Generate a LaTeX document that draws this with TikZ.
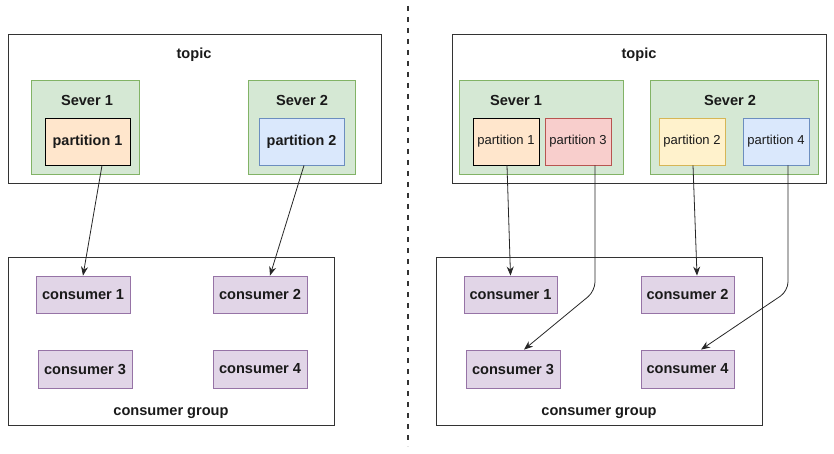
\documentclass[tikz,border=0pt]{standalone}
\usepackage{fontspec}
\setmainfont{Liberation Sans}
\usetikzlibrary{arrows.meta}
\definecolor{grfill}{HTML}{D5E8D4}
\definecolor{grline}{HTML}{82B366}
\definecolor{orfill}{HTML}{FFE6CC}
\definecolor{blfill}{HTML}{DAE8FC}
\definecolor{blline}{HTML}{6C8EBF}
\definecolor{rdfill}{HTML}{F8CECC}
\definecolor{rdline}{HTML}{B85450}
\definecolor{ylfill}{HTML}{FFF2CC}
\definecolor{ylline}{HTML}{D6B656}
\definecolor{pufill}{HTML}{E1D5E7}
\definecolor{puline}{HTML}{9673A6}
\definecolor{txt}{HTML}{1A1A1A}
\tikzset{
  box/.style={draw=black!80, line width=0.9pt, inner sep=0pt},
  server/.style={draw=grline, fill=grfill, line width=0.8pt, inner sep=0pt},
  part/.style={line width=0.9pt, inner sep=0pt, font=\fontsize{14.4}{16}\selectfont\bfseries, text=txt},
  partR/.style={line width=0.9pt, inner sep=0pt, font=\fontsize{13}{15}\selectfont, text=txt},
  cons/.style={draw=puline, fill=pufill, line width=0.8pt, inner sep=0pt, font=\fontsize{14.6}{16}\selectfont\bfseries, text=txt},
  lbl/.style={inner sep=0pt, font=\fontsize{14.6}{16}\selectfont\bfseries, text=txt},
  conn/.style={draw=black!85, line width=0.8pt, -{Stealth[length=9pt,width=7pt]}},
}
\newcommand{\boxat}[6]{% name, style, x1, y1, x2, y2
  \node[#2, minimum width={(#5-#3)*1pt}, minimum height={(#6-#4)*1pt}] (#1) at ({(#3+#5)/2},{(#4+#6)/2}) {};}
\begin{document}
\begin{tikzpicture}[x=1pt, y=-1pt]
\useasboundingbox (0,0) rectangle (834,454);
% divider
\draw[black!80, line width=1.8pt, dash pattern=on 5pt off 6pt] (408,6) coordinate (d1) -- (408,446) coordinate (d2);
% ===== LEFT =====
\boxat{Ltopic}{box}{8}{34}{381}{183}
\node[lbl] (LtopicT) at (194,55) {topic};
\boxat{Ls1}{server}{31}{80}{139}{174}
\node[lbl] (Ls1T) at (87,100) {Sever 1};
\boxat{Ls2}{server}{248}{80}{355}{174}
\node[lbl] (Ls2T) at (302,100) {Sever 2};
\node[part, draw=black, fill=orfill, minimum width=85pt, minimum height=47pt] (Lp1) at (87.5,141.5) {partition 1};
\node[part, draw=blline, fill=blfill, minimum width=85pt, minimum height=47pt] (Lp2) at (301.5,141.5) {partition 2};
\boxat{Lcg}{box}{8}{257}{334}{425}
\node[lbl] (LcgT) at (171,413) {consumer group};
\node[cons, minimum width=94pt, minimum height=37pt] (Lc1) at (83,294.5) {consumer 1};
\node[cons, minimum width=94pt, minimum height=37pt] (Lc2) at (260,294.5) {consumer 2};
\node[cons, minimum width=94pt, minimum height=38pt] (Lc3) at (85,369) {consumer 3};
\node[cons, minimum width=94pt, minimum height=38pt] (Lc4) at (260,369) {consumer 4};
\draw[conn] (Lp1.south -| 102,0) -- (Lc1.north);
\draw[conn] (Lp2.south -| 304,0) -- (Lc2.north -| 270,0);
% ===== RIGHT =====
\boxat{Rtopic}{box}{452}{34}{826}{183}
\node[lbl] (RtopicT) at (639,55) {topic};
\boxat{Rs1}{server}{459}{80}{623}{174}
\node[lbl] (Rs1T) at (516,100) {Sever 1};
\boxat{Rs2}{server}{650}{80}{818}{174}
\node[lbl] (Rs2T) at (730,100) {Sever 2};
\node[partR, draw=black, fill=orfill, minimum width=66pt, minimum height=47pt] (Rp1) at (506,141.5) {partition 1};
\node[partR, draw=rdline, fill=rdfill, minimum width=66pt, minimum height=47pt] (Rp3) at (578,141.5) {partition 3};
\node[partR, draw=ylline, fill=ylfill, minimum width=66pt, minimum height=47pt] (Rp2) at (692,141.5) {partition 2};
\node[partR, draw=blline, fill=blfill, minimum width=66pt, minimum height=47pt] (Rp4) at (776,141.5) {partition 4};
\boxat{Rcg}{box}{436}{257}{762}{425}
\node[lbl] (RcgT) at (599,413) {consumer group};
\node[cons, minimum width=93pt, minimum height=37pt] (Rc1) at (510.5,294.5) {consumer 1};
\node[cons, minimum width=93pt, minimum height=37pt] (Rc2) at (687.5,294.5) {consumer 2};
\node[cons, minimum width=94pt, minimum height=38pt] (Rc3) at (513,369) {consumer 3};
\node[cons, minimum width=93pt, minimum height=38pt] (Rc4) at (687.5,369) {consumer 4};
\coordinate (b3) at (595,291);
\coordinate (b4) at (788,291);
\draw[conn] (Rp1.south -| 507,0) -- (Rc1.north);
\draw[conn] (Rp2.south -| 693,0) -- (Rc2.north -| 697,0);
\draw[conn, rounded corners=9pt] (Rp3.south -| b3) -- (b3) -- (Rc3.north -| 524,0);
\draw[conn, rounded corners=9pt] (Rp4.south -| b4) -- (b4) -- (Rc4.north -| 701,0);
\end{tikzpicture}
\end{document}
